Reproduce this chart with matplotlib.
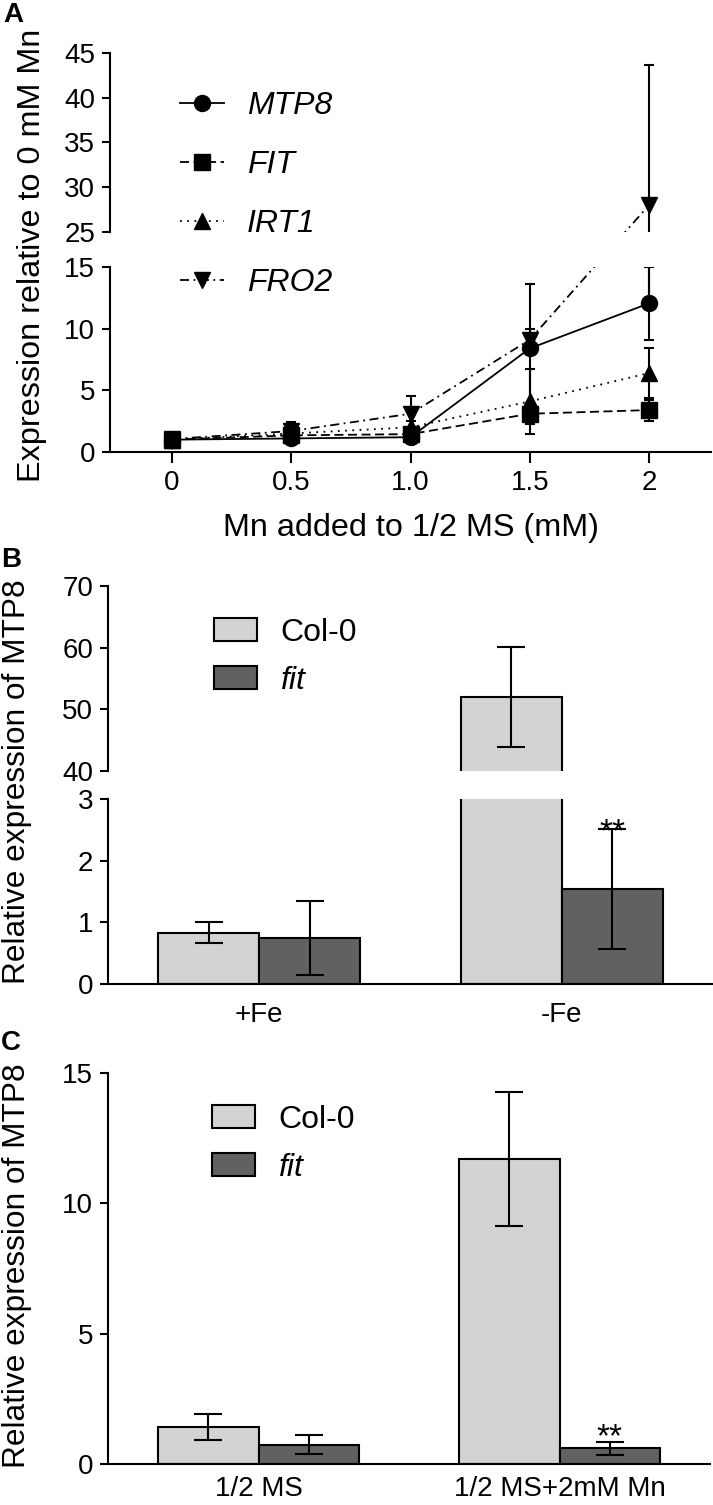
import matplotlib
matplotlib.use('Agg')
import matplotlib.pyplot as plt
from matplotlib.lines import Line2D
from matplotlib.patches import Patch
import numpy as np

plt.rcParams['font.family'] = ['Liberation Sans', 'DejaVu Sans']

W, H = 713, 1505

# Panel A: expression vs Mn added
mn_added = [0, 0.5, 1.0, 1.5, 2]
mn_ticklabels = ['0', '0.5', '1.0', '1.5', '2']
mtp8_mean = [1.0, 1.1, 1.2, 8.4, 12.05]
mtp8_err = [0.2, 0.2, 0.25, 5.2, 2.95]
fit_mean = [1.0, 1.35, 1.45, 3.1, 3.4]
fit_err = [0.3, 0.3, 0.3, 0.8, 0.85]
irt1_mean = [1.0, 1.5, 2.0, 4.1, 6.4]
irt1_err = [0.2, 0.4, 0.5, 2.6, 2.0]
fro2_mean = [1.05, 1.7, 3.1, 9.1, 28.0]
fro2_err = [0.2, 0.7, 1.45, 0.9, 15.7]

# Panel B: +Fe / -Fe
fe_groups = ['+Fe', '-Fe']
b_col0 = [0.83, 52.0]
b_col0_err = [0.17, 8.1]
b_fit = [0.75, 1.54]
b_fit_err = [0.6, 0.98]

# Panel C: 1/2 MS / +Mn
mn_groups = ['1/2 MS', '1/2 MS+2mM Mn']
c_col0 = [1.43, 11.7]
c_col0_err = [0.5, 2.56]
c_fit = [0.74, 0.6]
c_fit_err = [0.36, 0.25]

LIGHT = '#d3d3d3'
DARK = '#616161'
LW = 1.5
TICK = 20
LABEL_A = 23.3
LABEL_BC = 22.8
LEG = 23


# axes placed with pixel edges (left, right, bottom, top)
def px_axes(fig, left, right, bottom, top):
    return fig.add_axes([left / W, 1 - bottom / H, (right - left) / W, (bottom - top) / H])


def style_axes(ax, bottom=True, xtick_len=8):
    ax.spines['top'].set_visible(False)
    ax.spines['right'].set_visible(False)
    ax.spines['left'].set_linewidth(LW)
    ax.spines['bottom'].set_linewidth(LW)
    ax.tick_params(axis='y', length=5.8, width=LW, labelsize=TICK, pad=5)
    if bottom:
        ax.tick_params(axis='x', length=xtick_len, width=LW, labelsize=TICK, pad=5)
    else:
        ax.spines['bottom'].set_visible(False)
        ax.tick_params(axis='x', bottom=False, labelbottom=False)


# y values re-expressed in ax_to so lines cross the axis break straight
def across(ax_to, ax_other, xs, ys):
    lo, hi = ax_to.get_ylim()
    out = []
    for x, y in zip(xs, ys):
        if lo <= y <= hi:
            out.append(y)
        else:
            disp = ax_other.transData.transform((x, y))
            out.append(ax_to.transData.inverted().transform(disp)[1])
    return out


fig = plt.figure(figsize=(W / 100, H / 100), dpi=100)

# ---------------- Panel A ----------------
ax_lo = px_axes(fig, 110, 711, 452, 267)
ax_hi = px_axes(fig, 110, 711, 232, 53)
for ax in (ax_lo, ax_hi):
    ax.set_xlim(-0.26, 2.26)
ax_lo.set_ylim(0, 15)
ax_hi.set_ylim(25, 45)
ax_lo.set_yticks([0, 5, 10, 15])
ax_hi.set_yticks([25, 30, 35, 40, 45])
ax_lo.set_xticks(mn_added)
ax_lo.set_xticklabels(mn_ticklabels)
style_axes(ax_lo)
style_axes(ax_hi, bottom=False)
ax_lo.set_xlabel('Mn added to 1/2 MS (mM)', fontsize=LABEL_A, labelpad=12)

series = [
    ('MTP8', mtp8_mean, mtp8_err, 'o', 11.5, '-'),
    ('FIT', fit_mean, fit_err, 's', 11, (0, (5, 2.5))),
    ('IRT1', irt1_mean, irt1_err, '^', 11, (0, (1, 3))),
    ('FRO2', fro2_mean, fro2_err, 'v', 11, (0, (5, 2.5, 1, 2.5))),
]

handles = []
for name, mean, err, mk, ms, ls in series:
    for ax, other in ((ax_lo, ax_hi), (ax_hi, ax_lo)):
        ax.plot(mn_added, across(ax, other, mn_added, mean), color='k', lw=1.3, ls=ls, zorder=2)
        ax.errorbar(mn_added, mean, yerr=err, fmt=mk, ms=ms, color='k', ecolor='k',
                    elinewidth=LW, capsize=3.5, capthick=LW, zorder=3)
    handles.append(Line2D([], [], color='k', lw=1.3, ls=ls, marker=mk, ms=ms, label=name))

leg = ax_hi.legend(handles=handles, loc='upper left', bbox_to_anchor=(180 / W, 1 - 91 / H),
                   bbox_transform=fig.transFigure, frameon=False, borderpad=0, borderaxespad=0,
                   handlelength=1.38, handletextpad=0.72, labelspacing=0.91, numpoints=1,
                   prop={'size': LEG, 'style': 'italic'})

fig.text(32 / W, 1 - 255 / H, 'Expression relative to 0 mM Mn', rotation=90,
         ha='center', va='center', fontsize=LABEL_A)
fig.text(3 / W, 1 - 2 / H, 'A', fontsize=20, fontweight='bold', ha='left', va='top')


# ---------------- bar panels ----------------
def draw_bars(ax, col0, col0_err, fit, fit_err):
    x = np.arange(len(col0))
    w = 1 / 3
    ekw = dict(ecolor='k', elinewidth=LW, capsize=10, capthick=LW, zorder=4)
    ax.bar(x - w / 2, col0, w, yerr=col0_err, color=LIGHT, edgecolor='k', linewidth=LW,
           error_kw=ekw, zorder=2)
    ax.bar(x + w / 2, fit, w, yerr=fit_err, color=DARK, edgecolor='k', linewidth=LW,
           error_kw=ekw, zorder=2)
    return x, w


def bar_legend(ax, top, left):
    hs = [Patch(facecolor=LIGHT, edgecolor='k', linewidth=LW, label='Col-0'),
          Patch(facecolor=DARK, edgecolor='k', linewidth=LW, label='fit')]
    leg = ax.legend(handles=hs, loc='upper left', bbox_to_anchor=(left / W, 1 - top / H),
                    bbox_transform=fig.transFigure, frameon=False, borderpad=0, borderaxespad=0,
                    handlelength=1.34, handleheight=0.72, handletextpad=0.75, labelspacing=0.56,
                    prop={'size': LEG})
    leg.get_texts()[1].set_fontstyle('italic')


# ---------------- Panel B ----------------
bx_lo = px_axes(fig, 108, 713, 984, 799)
bx_hi = px_axes(fig, 108, 713, 771, 586)
for ax in (bx_lo, bx_hi):
    ax.set_xlim(-0.5, 1.5)
    xb, wb = draw_bars(ax, b_col0, b_col0_err, b_fit, b_fit_err)
bx_lo.set_ylim(0, 3)
bx_hi.set_ylim(40, 70)
bx_lo.set_yticks([0, 1, 2, 3])
bx_hi.set_yticks([40, 50, 60, 70])
bx_lo.set_xticks(xb)
bx_lo.set_xticklabels(fe_groups)
style_axes(bx_lo, xtick_len=0)
bx_lo.tick_params(axis='x', pad=13)
style_axes(bx_hi, bottom=False)
bar_legend(bx_hi, 618, 214)
bx_lo.annotate('**', xy=(xb[1] + wb / 2, b_fit[1] + b_fit_err[1]), xytext=(0, -9),
               textcoords='offset points', ha='center', va='baseline', fontsize=24)
fig.text(17 / W, 1 - 782 / H, 'Relative expression of MTP8', rotation=90,
         ha='center', va='center', fontsize=LABEL_BC)
fig.text(1 / W, 1 - 547 / H, 'B', fontsize=20, fontweight='bold', ha='left', va='top')

# ---------------- Panel C ----------------
cx = px_axes(fig, 108, 710, 1464, 1073)
cx.set_xlim(-0.5, 1.5)
xc, wc = draw_bars(cx, c_col0, c_col0_err, c_fit, c_fit_err)
cx.set_ylim(0, 15)
cx.set_yticks([0, 5, 10, 15])
cx.set_xticks(xc)
cx.set_xticklabels(mn_groups)
style_axes(cx, xtick_len=0)
cx.tick_params(axis='x', pad=9)
bar_legend(cx, 1105, 212)
cx.annotate('**', xy=(xc[1] + wc / 2, c_fit[1] + c_fit_err[1]), xytext=(0, -3),
            textcoords='offset points', ha='center', va='baseline', fontsize=24)
fig.text(17 / W, 1 - 1266 / H, 'Relative expression of MTP8', rotation=90,
         ha='center', va='center', fontsize=LABEL_BC)
fig.text(1 / W, 1 - 1030 / H, 'C', fontsize=20, fontweight='bold', ha='left', va='top')

fig.savefig('out.png', dpi=100)
